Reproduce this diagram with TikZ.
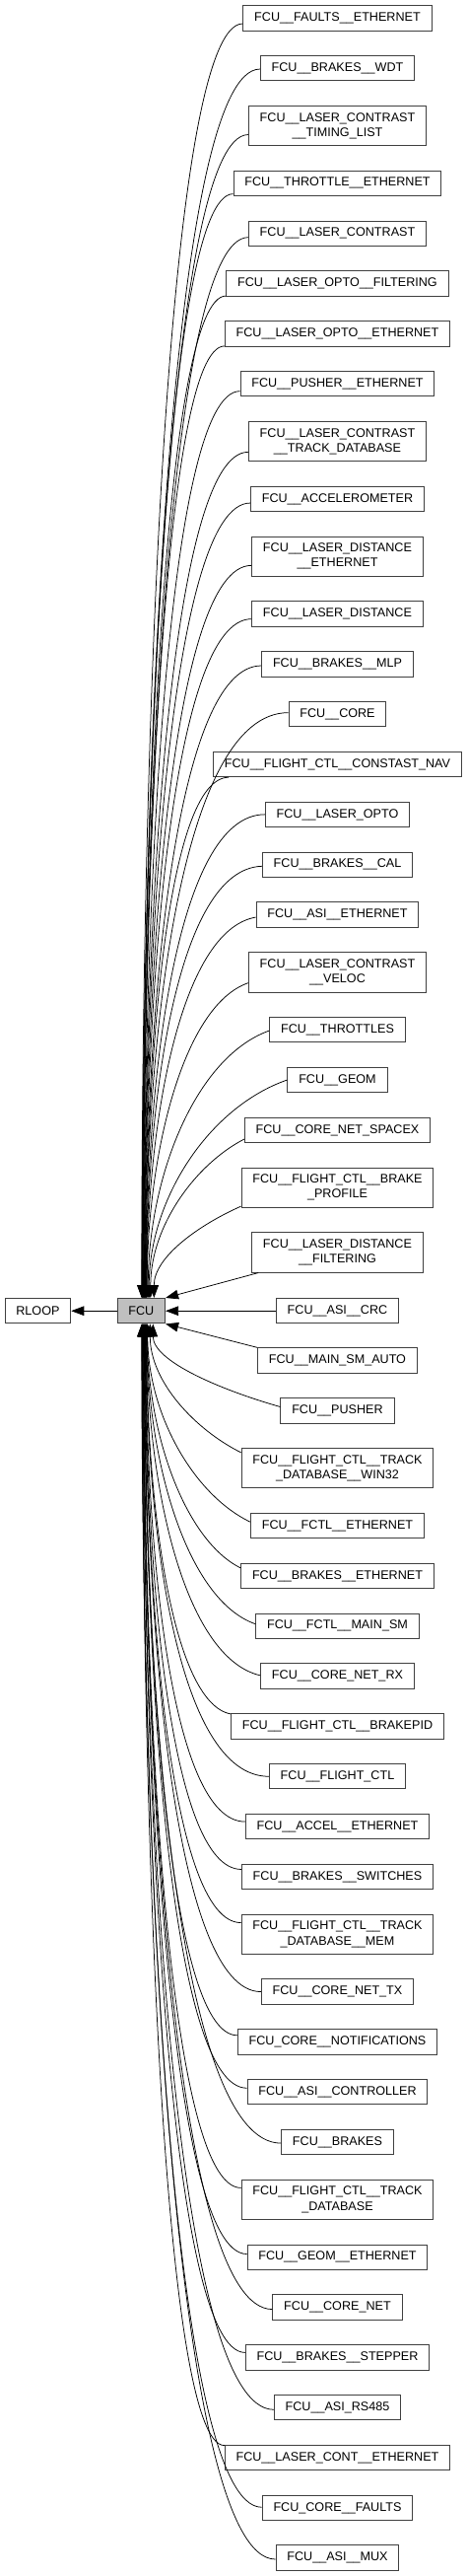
\documentclass[tikz,border=0pt]{standalone}
\usepackage{fontspec}
\setmainfont{Liberation Sans}
\usetikzlibrary{arrows.meta,calc}
\definecolor{fcugray}{HTML}{BFBFBF}
\definecolor{boxline}{HTML}{404040}
\newcommand\depedge[2]{%
  \draw[dep] let \p1=(#1), \p2=(#2),
    \n1={abs(\y2-\y1)}, \n2={min(1,\n1/450)}, \n3={(\y2-\y1)/\n1}
  in (\p1) .. controls ({\x1-(0.4+0.35*\n2)*(\x1-\x2)},{\y1+\n3*0.25*(1-\n2)*\n1}) and (\x2,{\y2-\n3*0.45*\n1}) .. (\p2);}
\begin{document}
\begin{tikzpicture}[x=1bp,y=-1bp,
  box/.style={draw=boxline, line width=1bp, fill=white, inner xsep=11.3bp, inner ysep=2bp,
    minimum height=25.4bp, font=\fontsize{12.6bp}{15.3bp}\selectfont},
  boxii/.style={box, minimum height=40.3bp, align=center},
  dep/.style={draw=black, line width=0.75bp, -{Triangle[length=13bp,width=9.5bp]}}]
\useasboundingbox (0,0) rectangle (475,2612);
\node[box] (rloop) at (38.4,1329.2) {RLOOP};
\node[box, fill=fcugray] (fcu) at (143.3,1329.2) {FCU};
\node[box] (n1) at (342.5,18.4) {FCU\_\_FAULTS\_\_ETHERNET};
\node[box] (n2) at (342.5,69.25) {FCU\_\_BRAKES\_\_WDT};
\node[boxii] (n3) at (342.5,127.55) {FCU\_\_LASER\_CONTRAST\\\_\_TIMING\_LIST};
\node[box] (n4) at (342.5,185.85) {FCU\_\_THROTTLE\_\_ETHERNET};
\node[box] (n5) at (342.5,236.7) {FCU\_\_LASER\_CONTRAST};
\node[box] (n6) at (342.5,287.55) {FCU\_\_LASER\_OPTO\_\_FILTERING};
\node[box] (n7) at (342.5,338.4) {FCU\_\_LASER\_OPTO\_\_ETHERNET};
\node[box] (n8) at (342.5,389.25) {FCU\_\_PUSHER\_\_ETHERNET};
\node[boxii] (n9) at (342.5,447.55) {FCU\_\_LASER\_CONTRAST\\\_\_TRACK\_DATABASE};
\node[box] (n10) at (342.5,505.85) {FCU\_\_ACCELEROMETER};
\node[boxii] (n11) at (342.5,564.15) {FCU\_\_LASER\_DISTANCE\\\_\_ETHERNET};
\node[box] (n12) at (342.5,622.45) {FCU\_\_LASER\_DISTANCE};
\node[box] (n13) at (342.5,673.3) {FCU\_\_BRAKES\_\_MLP};
\node[box] (n14) at (342.5,724.15) {FCU\_\_CORE};
\node[box] (n15) at (342.5,775.0) {FCU\_\_FLIGHT\_CTL\_\_CONSTAST\_NAV};
\node[box] (n16) at (342.5,825.85) {FCU\_\_LASER\_OPTO};
\node[box] (n17) at (342.5,876.7) {FCU\_\_BRAKES\_\_CAL};
\node[box] (n18) at (342.5,927.55) {FCU\_\_ASI\_\_ETHERNET};
\node[boxii] (n19) at (342.5,985.85) {FCU\_\_LASER\_CONTRAST\\\_\_VELOC};
\node[box] (n20) at (342.5,1044.15) {FCU\_\_THROTTLES};
\node[box] (n21) at (342.5,1095.0) {FCU\_\_GEOM};
\node[box] (n22) at (342.5,1145.85) {FCU\_\_CORE\_NET\_SPACEX};
\node[boxii] (n23) at (342.5,1204.15) {FCU\_\_FLIGHT\_CTL\_\_BRAKE\\\_PROFILE};
\node[boxii] (n24) at (342.5,1269.9) {FCU\_\_LASER\_DISTANCE\\\_\_FILTERING};
\node[box] (n25) at (342.5,1329.2) {FCU\_\_ASI\_\_CRC};
\node[box] (n26) at (342.5,1379.55) {FCU\_\_MAIN\_SM\_AUTO};
\node[box] (n27) at (342.5,1430.4) {FCU\_\_PUSHER};
\node[boxii] (n28) at (342.5,1488.7) {FCU\_\_FLIGHT\_CTL\_\_TRACK\\\_DATABASE\_\_WIN32};
\node[box] (n29) at (342.5,1547.0) {FCU\_\_FCTL\_\_ETHERNET};
\node[box] (n30) at (342.5,1597.85) {FCU\_\_BRAKES\_\_ETHERNET};
\node[box] (n31) at (342.5,1648.7) {FCU\_\_FCTL\_\_MAIN\_SM};
\node[box] (n32) at (342.5,1699.55) {FCU\_\_CORE\_NET\_RX};
\node[box] (n33) at (342.5,1750.4) {FCU\_\_FLIGHT\_CTL\_\_BRAKEPID};
\node[box] (n34) at (342.5,1801.25) {FCU\_\_FLIGHT\_CTL};
\node[box] (n35) at (342.5,1852.1) {FCU\_\_ACCEL\_\_ETHERNET};
\node[box] (n36) at (342.5,1902.95) {FCU\_\_BRAKES\_\_SWITCHES};
\node[boxii] (n37) at (342.5,1961.25) {FCU\_\_FLIGHT\_CTL\_\_TRACK\\\_DATABASE\_\_MEM};
\node[box] (n38) at (342.5,2019.55) {FCU\_\_CORE\_NET\_TX};
\node[box] (n39) at (342.5,2070.4) {FCU\_CORE\_\_NOTIFICATIONS};
\node[box] (n40) at (342.5,2121.25) {FCU\_\_ASI\_\_CONTROLLER};
\node[box] (n41) at (342.5,2172.1) {FCU\_\_BRAKES};
\node[boxii] (n42) at (342.5,2230.4) {FCU\_\_FLIGHT\_CTL\_\_TRACK\\\_DATABASE};
\node[box] (n43) at (342.5,2288.7) {FCU\_\_GEOM\_\_ETHERNET};
\node[box] (n44) at (342.5,2339.55) {FCU\_\_CORE\_NET};
\node[box] (n45) at (342.5,2390.4) {FCU\_\_BRAKES\_\_STEPPER};
\node[box] (n46) at (342.5,2441.25) {FCU\_\_ASI\_RS485};
\node[box] (n47) at (342.5,2492.1) {FCU\_\_LASER\_CONT\_\_ETHERNET};
\node[box] (n48) at (342.5,2542.95) {FCU\_CORE\_\_FAULTS};
\node[box] (n49) at (342.5,2593.3) {FCU\_\_ASI\_\_MUX};
% edge to RLOOP
\draw[dep] (fcu) -- (rloop);
% edges from the nodes above FCU
\foreach \i/\off/\dx in {1/5.6/0.5, 2/0.8/0.8, 3/9/1.1, 4/10.8/1.4, 5/4/1.7, 6/12.5/2.0,
  7/12.5/2.3, 8/7.4/2.6, 9/10.8/2.9, 10/4.2/3.2, 11/9.2/3.5, 12/5.2/3.8, 13/1.7/4.1,
  14/-1.5/4.4, 16/0/5.0, 17/1.6/5.3, 18/2.5/5.6, 19/10.8/5.9, 20/0.9/7, 21/0/8,
  22/9.2/9.5, 23/19/13}
  {\depedge{$(n\i.west)+(0,\off)$}{$(fcu.north)+(\dx,0)$}}
\depedge{$(n15.south west)+(16,0)$}{$(fcu.north)+(4.7,0)$}
\draw[dep] ($(n24.south west)+(7,0)$) -- (fcu.north east);
\draw[dep] (n25) -- (fcu);
\draw[dep] (n26.north west) -- (fcu.south east);
% edges from the nodes below FCU
\foreach \i/\off/\dx in {27/-3.9/12, 28/-15.9/9, 29/-3.8/6.5, 30/-8/6.2, 31/-2/5.9,
  32/-0.7/5.6, 33/-12.5/5.3, 34/0/5.0, 35/-5/4.7, 36/-7.5/4.4, 37/-11.7/4.1, 38/0/3.8,
  39/-6.6/3.5, 40/-4/3.2, 41/1/2.9, 42/-12/2.6, 43/-3.2/2.3, 44/2/2.0, 45/-5/1.7,
  46/2/1.4, 47/-12.5/1.1, 48/-0.7/0.8, 49/1.7/0.5}
  {\depedge{$(n\i.west)+(0,\off)$}{$(fcu.south)+(\dx,0)$}}
\end{tikzpicture}
\end{document}
